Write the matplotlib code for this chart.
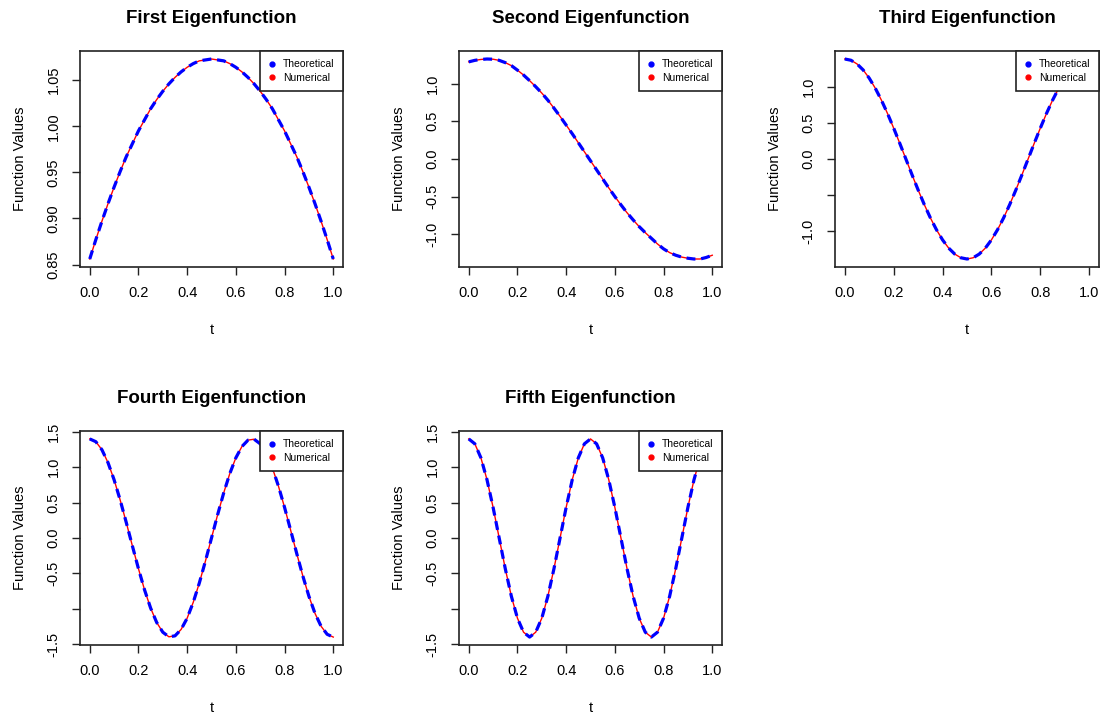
import matplotlib.pyplot as plt
import numpy as np

plt.rcParams['font.family'] = ['Liberation Sans', 'DejaVu Sans']

# grid of t values
t = [0.000, 0.025, 0.050, 0.075, 0.100, 0.125, 0.150, 0.175, 0.200, 0.225,
     0.250, 0.275, 0.300, 0.325, 0.350, 0.375, 0.400, 0.425, 0.450, 0.475,
     0.500, 0.525, 0.550, 0.575, 0.600, 0.625, 0.650, 0.675, 0.700, 0.725,
     0.750, 0.775, 0.800, 0.825, 0.850, 0.875, 0.900, 0.925, 0.950, 0.975,
     1.000]

# values (theoretical and numerical lie on top of each other)
first = [0.856, 0.877, 0.897, 0.916, 0.934, 0.951, 0.967, 0.981, 0.995, 1.007,
         1.019, 1.029, 1.038, 1.046, 1.053, 1.059, 1.064, 1.068, 1.071, 1.072,
         1.073, 1.072, 1.071, 1.068, 1.064, 1.059, 1.053, 1.046, 1.038, 1.029,
         1.019, 1.007, 0.995, 0.981, 0.967, 0.951, 0.934, 0.916, 0.897, 0.877,
         0.856]
second = [1.290, 1.310, 1.322, 1.328, 1.325, 1.310, 1.280, 1.240, 1.180, 1.115,
          1.040, 0.960, 0.875, 0.780, 0.675, 0.565, 0.450, 0.335, 0.215, 0.095,
          -0.025, -0.145, -0.265, -0.385, -0.500, -0.610, -0.715, -0.810, -0.900, -0.980,
          -1.055, -1.130, -1.195, -1.245, -1.280, -1.305, -1.320, -1.330, -1.330, -1.310,
          -1.280]
third = [1.385, 1.368, 1.317, 1.234, 1.120, 0.979, 0.814, 0.629, 0.428, 0.217,
         0.000, -0.217, -0.428, -0.629, -0.814, -0.979, -1.120, -1.234, -1.317, -1.368,
         -1.385, -1.368, -1.317, -1.234, -1.120, -0.979, -0.814, -0.629, -0.428, -0.217,
         0.000, 0.217, 0.428, 0.629, 0.814, 0.979, 1.120, 1.234, 1.317, 1.368,
         1.385]
fourth = [1.400, 1.361, 1.247, 1.065, 0.823, 0.536, 0.219, -0.110, -0.433, -0.732,
          -0.990, -1.194, -1.331, -1.396, -1.383, -1.293, -1.133, -0.909, -0.636, -0.327,
          0.000, 0.327, 0.636, 0.909, 1.133, 1.293, 1.383, 1.396, 1.331, 1.194,
          0.990, 0.732, 0.433, 0.110, -0.219, -0.536, -0.823, -1.065, -1.247, -1.361,
          -1.400]
fifth = [1.400, 1.331, 1.133, 0.823, 0.433, 0.000, -0.433, -0.823, -1.133, -1.331,
         -1.400, -1.331, -1.133, -0.823, -0.433, 0.000, 0.433, 0.823, 1.133, 1.331,
         1.400, 1.331, 1.133, 0.823, 0.433, 0.000, -0.433, -0.823, -1.133, -1.331,
         -1.400, -1.331, -1.133, -0.823, -0.433, 0.000, 0.433, 0.823, 1.133, 1.331,
         1.400]

theoretical = [first, second, third, fourth, fifth]
numerical = [first, second, third, fourth, fifth]

titles = ['First Eigenfunction', 'Second Eigenfunction', 'Third Eigenfunction',
          'Fourth Eigenfunction', 'Fifth Eigenfunction']

yticks = [[0.85, 0.90, 0.95, 1.00, 1.05],
          [-1.0, -0.5, 0.0, 0.5, 1.0],
          [-1.0, -0.5, 0.0, 0.5, 1.0],
          [-1.5, -1.0, -0.5, 0.0, 0.5, 1.0, 1.5],
          [-1.5, -1.0, -0.5, 0.0, 0.5, 1.0, 1.5]]
ylabels = [['0.85', '0.90', '0.95', '1.00', '1.05'],
           ['-1.0', '-0.5', '0.0', '0.5', '1.0'],
           ['-1.0', '', '0.0', '0.5', '1.0'],
           ['-1.5', '', '-0.5', '0.0', '0.5', '1.0', '1.5'],
           ['-1.5', '', '-0.5', '0.0', '0.5', '1.0', '1.5']]
xticks = [0.0, 0.2, 0.4, 0.6, 0.8, 1.0]
xlabels = ['0.0', '0.2', '0.4', '0.6', '0.8', '1.0']

W, H = 1104, 717
fig = plt.figure(figsize=(W / 100, H / 100), dpi=100)

# panel boxes in pixels: left, top, width, height
boxes = [(80, 51, 263, 216), (459, 51, 263, 216), (835, 51, 264, 216),
         (80, 431, 263, 214), (459, 431, 263, 214)]

for i in range(5):
    l, top, w, h = boxes[i]
    ax = fig.add_axes([l / W, (H - top - h) / H, w / W, h / H])

    ax.plot(t, numerical[i], color='red', lw=1.0, label='Numerical', zorder=2)
    ax.plot(t, theoretical[i], color='blue', lw=2.3, dashes=(2.8, 1.8),
            label='Theoretical', zorder=3)
    ax.margins(x=0.04, y=0.04)

    ax.set_xticks(xticks, labels=xlabels)
    ax.set_yticks(yticks[i], labels=ylabels[i], rotation=90, va='center')
    ax.tick_params(direction='out', length=6, width=1, pad=8, labelsize=10.5,
                   color='#222222')
    for s in ax.spines.values():
        s.set_linewidth(1.2)
        s.set_color('#222222')

    ax.set_title(titles[i], fontsize=13.5, fontweight='bold', pad=20)
    ax.set_xlabel('t', fontsize=10.5)
    ax.set_ylabel('Function Values', fontsize=10.5)
    ax.xaxis.set_label_coords(0.5, -0.26)
    ax.yaxis.set_label_coords(-0.20, 0.5)

    # legend with dots, as in the original
    hb = plt.Line2D([], [], color='blue', marker='o', ls='none', markersize=3.5)
    hr = plt.Line2D([], [], color='red', marker='o', ls='none', markersize=3.5)
    leg = ax.legend([hb, hr], ['Theoretical', 'Numerical'], loc='upper right',
                    fontsize=7.5, borderaxespad=0, fancybox=False, framealpha=1,
                    edgecolor='#222222', handlelength=0.6, handletextpad=0.8,
                    borderpad=0.8, labelspacing=0.35)
    leg.get_frame().set_linewidth(1.2)

plt.savefig('out.png', dpi=100)
